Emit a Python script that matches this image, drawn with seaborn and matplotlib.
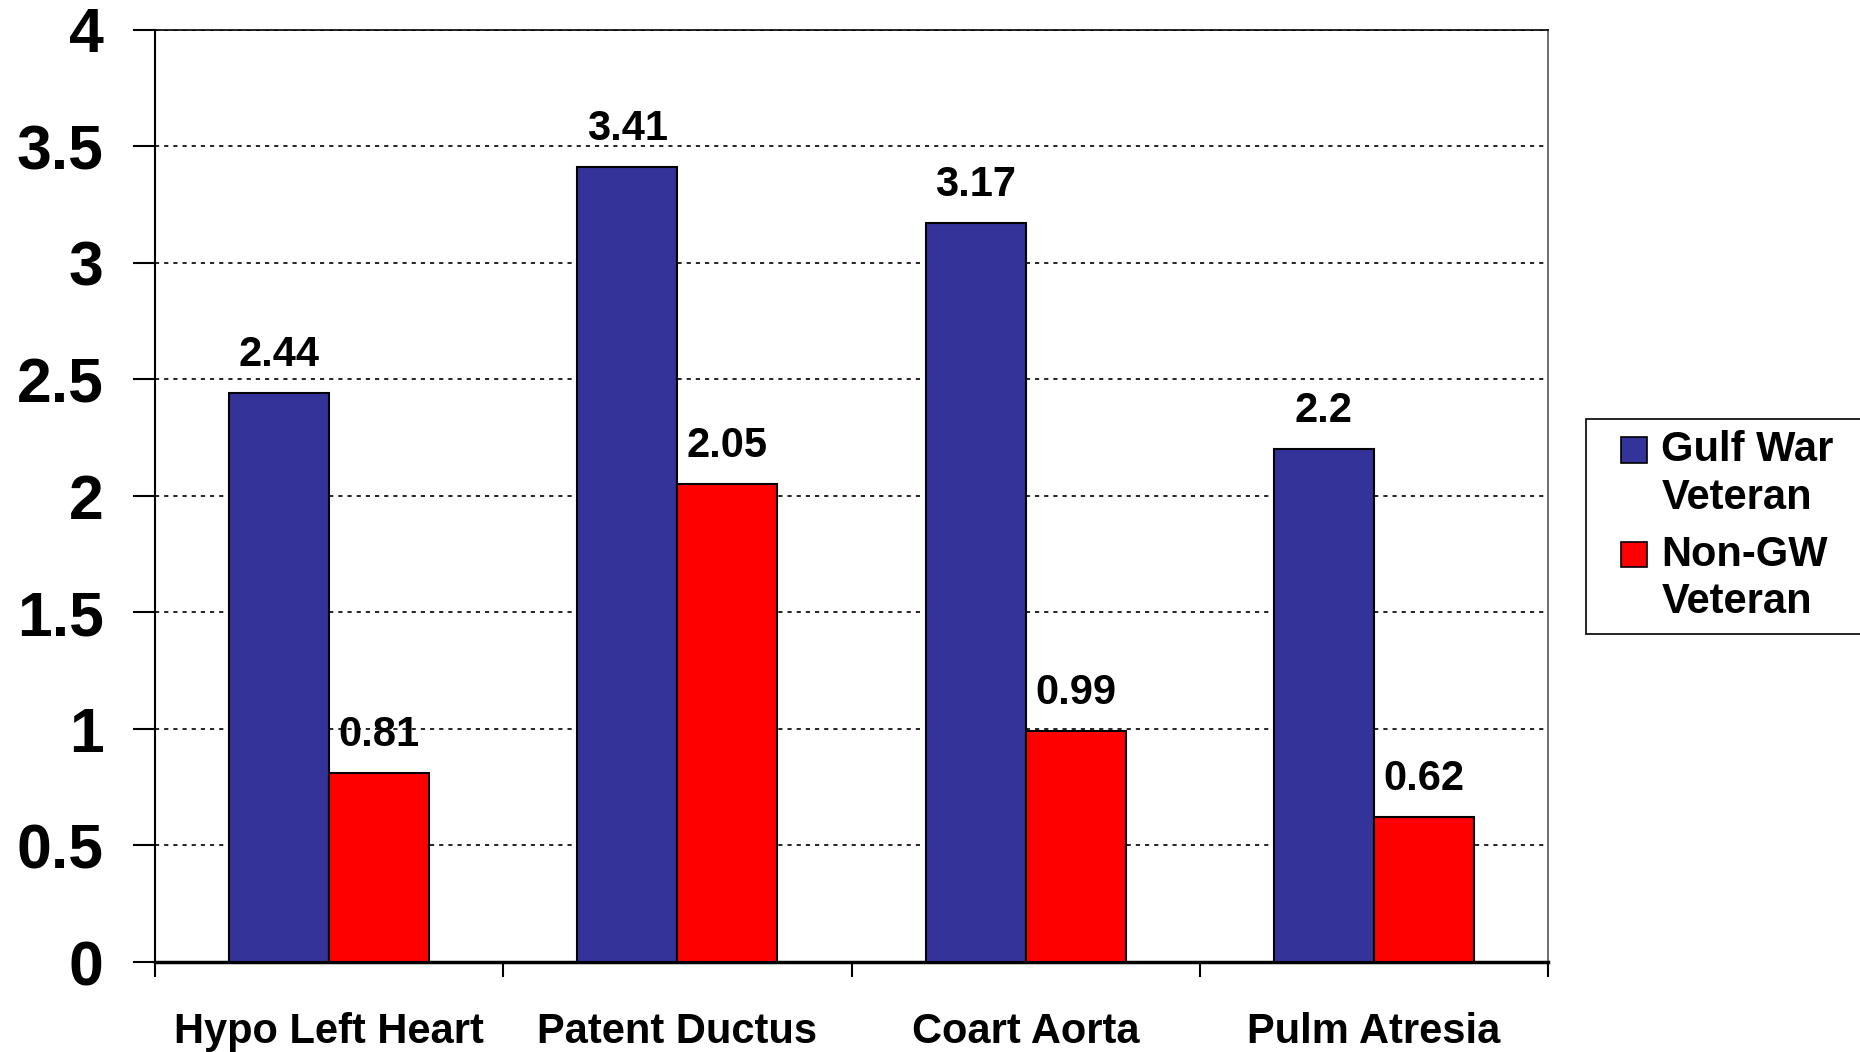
import pandas as pd
import numpy as np
import matplotlib
matplotlib.use('Agg')
import matplotlib.pyplot as plt
import seaborn as sns
from matplotlib.patches import Rectangle
from matplotlib.legend_handler import HandlerPatch

categories = ['Hypo Left Heart', 'Patent Ductus', 'Coart Aorta', 'Pulm Atresia']
gulf_war = [2.44, 3.41, 3.17, 2.2]
non_gw = [0.81, 2.05, 0.99, 0.62]
series_names = ['Gulf War\nVeteran', 'Non-GW\nVeteran']
y_ticks = [0, 0.5, 1, 1.5, 2, 2.5, 3, 3.5, 4]

df = pd.DataFrame({
    'Defect': categories * 2,
    'Group': [series_names[0]] * len(categories) + [series_names[1]] * len(categories),
    'Value': gulf_war + non_gw,
})


# legend square sits next to the first line of a two-line label
class FirstLineSquare(HandlerPatch):
    def create_artists(self, legend, orig_handle, xdescent, ydescent,
                       width, height, fontsize, trans):
        size = 0.62 * fontsize
        lift = 0.64 * fontsize
        p = Rectangle((-xdescent + width - size, -ydescent + lift), size, size,
                      facecolor=orig_handle.get_facecolor(), edgecolor='black',
                      linewidth=1.2, transform=trans)
        return [p]


sns.set_style('white')
plt.rcParams['font.family'] = ['Liberation Sans', 'DejaVu Sans']
plt.rcParams['font.weight'] = 'bold'
plt.rcParams['text.color'] = 'black'
plt.rcParams['xtick.color'] = 'black'
plt.rcParams['ytick.color'] = 'black'

fig = plt.figure(figsize=(18.6, 10.52), dpi=100)
ax = fig.add_axes([155 / 1860, 1 - 962 / 1052, (1548 - 155) / 1860, (962 - 29.5) / 1052])

sns.barplot(data=df, x='Defect', y='Value', hue='Group',
            palette=['#333399', '#FF0000'], width=0.575,
            edgecolor='black', linewidth=1.5, saturation=1,
            ax=ax, zorder=3)

for cont in ax.containers:
    ax.bar_label(cont, labels=[f'{v:g}' for v in cont.datavalues],
                 padding=13, fontsize=30, fontweight='bold')

ax.set_ylim(0, 4)
ax.set_xlim(-0.5, len(categories) - 0.5)
ax.set_yticks(y_ticks)
ax.set_yticklabels([f'{t:g}' for t in y_ticks], fontsize=45, fontweight='bold')
ax.set_xticks(range(len(categories)))
ax.set_xticklabels(categories, fontsize=30, fontweight='bold')
ax.set_xticks(np.arange(-0.5, len(categories)), minor=True)
ax.tick_params(axis='x', which='major', length=0, pad=36)
ax.tick_params(axis='x', which='minor', length=11, width=1.5, direction='out',
               color='black', bottom=True)
ax.tick_params(axis='y', length=16, width=1.5, direction='out', color='black',
               pad=21, left=True)
ax.set_xlabel('')
ax.set_ylabel('')

ax.yaxis.grid(True, color='black', linestyle=(0, (2.5, 3)), linewidth=1.2, zorder=0)
ax.xaxis.grid(False)
ax.set_axisbelow(True)

ax.spines['left'].set_color('black')
ax.spines['left'].set_linewidth(1.5)
ax.spines['bottom'].set_color('black')
ax.spines['bottom'].set_linewidth(2.5)
ax.spines['top'].set_color('black')
ax.spines['top'].set_linewidth(1.2)
ax.spines['right'].set_color('#555555')
ax.spines['right'].set_linewidth(1.2)

handles, labels = ax.get_legend_handles_labels()
ax.get_legend().remove()
leg = fig.legend(handles, labels, loc='upper left',
                 bbox_to_anchor=(1586 / 1860, 1 - 419 / 1052),
                 prop={'size': 30, 'weight': 'bold'},
                 frameon=True, fancybox=False, edgecolor='black', framealpha=1,
                 handlelength=1.2, handleheight=0.7, handletextpad=0.34,
                 borderpad=0.27, labelspacing=0.4, borderaxespad=0,
                 handler_map={Rectangle: FirstLineSquare()})
frame = leg.get_frame()
frame.set_linewidth(1.2)
for t in leg.get_texts():
    t.set_linespacing(1.25)

# the legend box runs off the right edge of the picture
_set_bounds = frame.set_bounds


def wide_bounds(*args):
    l, b, w, h = args[0] if len(args) == 1 else args
    _set_bounds(l, b, w + 80, h)


frame.set_bounds = wide_bounds

fig.savefig('out.png', dpi=100)
